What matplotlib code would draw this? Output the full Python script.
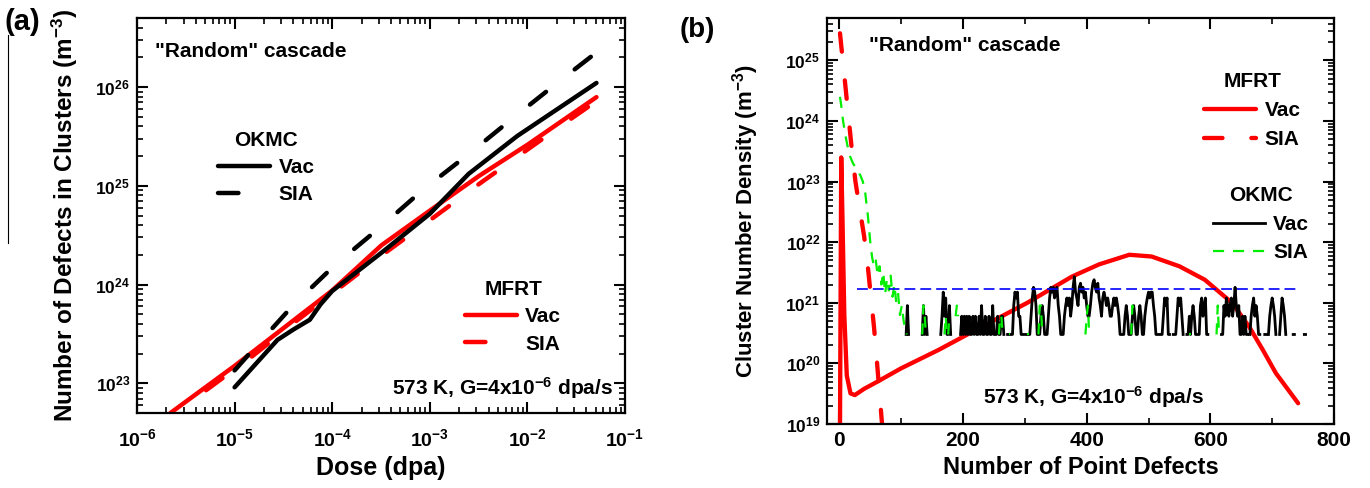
import numpy as np
import matplotlib
matplotlib.use('Agg')
import matplotlib.pyplot as plt
from matplotlib.ticker import LogLocator, FuncFormatter, MultipleLocator, NullFormatter
from matplotlib.lines import Line2D

plt.rcParams['font.family'] = ['Liberation Sans', 'DejaVu Sans']
plt.rcParams['font.weight'] = 'bold'
plt.rcParams['mathtext.fontset'] = 'custom'
plt.rcParams['mathtext.rm'] = 'Liberation Sans'
plt.rcParams['mathtext.bf'] = 'Liberation Sans:bold'
plt.rcParams['mathtext.default'] = 'bf'
plt.rcParams['axes.linewidth'] = 1.6

# ---- panel (a): defects in clusters vs dose ----
mfrt_vac_dose = [2.2e-6, 1e-5, 1e-4, 3.2e-4, 1e-3, 3.2e-3, 1e-2, 5.1e-2]
mfrt_vac_dens = [5.0e22, 1.5e23, 8.7e23, 2.5e24, 5.6e24, 1.26e25, 2.6e25, 7.9e25]
mfrt_sia_dose = [5.1e-6, 1.5e-5, 4.2e-5, 1.2e-4, 3.6e-4, 1.07e-3, 3.1e-3, 8.9e-3, 2.57e-2, 5.1e-2]
mfrt_sia_dens = [8.5e22, 1.86e23, 4.2e23, 9.3e23, 2.14e24, 4.7e24, 1.02e25, 2.14e25, 4.5e25, 7.2e25]
okmc_vac_dose = [1e-5, 2.75e-5, 4e-5, 5.9e-5, 7.6e-5, 1e-4, 3.2e-4, 1e-3, 2.5e-3, 7.9e-3, 5.1e-2]
okmc_vac_dens = [9.1e22, 2.75e23, 3.5e23, 4.4e23, 6.3e23, 8.6e23, 2.1e24, 5.2e24, 1.32e25, 3.2e25, 1.1e26]
okmc_sia_dose = [1e-5, 1.55e-5, 4e-5, 1.07e-4, 3.1e-4, 8.5e-4, 2.57e-3, 7.4e-3, 2.14e-2, 5.1e-2]
okmc_sia_dens = [1.35e23, 2.2e23, 6.2e23, 1.58e24, 3.8e24, 9.1e24, 2.14e25, 5.0e25, 1.15e26, 2.24e26]

# ---- panel (b): cluster size distribution ----
mfrt_vac_n = [1, 3, 5, 8, 12, 18, 25, 40, 60, 100, 160, 230, 304, 376, 420, 469, 505, 550, 591, 635, 663, 685, 706, 742]
mfrt_vac_cnd = [7.9e18, 2.5e23, 2.5e22, 6.3e20, 6.3e19, 3.2e19, 3.0e19, 3.8e19, 4.9e19, 8.3e19, 1.66e20, 4.0e20,
                1.0e21, 2.7e21, 4.3e21, 6.2e21, 5.8e21, 4.0e21, 2.4e21, 1.0e21, 4.0e20, 1.66e20, 6.9e19, 2.2e19]
mfrt_sia_n = [1, 5, 9, 14, 20, 26, 33, 40, 46, 51, 56, 61, 65, 69]
mfrt_sia_cnd = [2.8e25, 1.12e25, 4.5e24, 1.4e24, 3.5e23, 1.0e23, 3.5e22, 1.26e22, 4.0e21, 1.26e21, 4.0e20, 1.0e20,
                3.2e19, 1.0e19]
okmc_sia_n = [1, 3, 6, 10, 16, 22, 28, 34, 38, 42, 46, 50, 53, 56, 59, 62, 65, 68, 71, 74, 77, 80, 83, 86, 89, 92,
              95, 98, 101, 104, 107, 109]
okmc_sia_cnd = [2.5e24, 1.8e24, 1.0e24, 5.6e23, 2.8e23, 2.0e23, 1.6e23, 1.26e23, 1.0e23, 6.3e22, 2.8e22, 1.0e22,
                5.6e21, 4.0e21, 5.0e21, 2.8e21, 4.0e21, 2.0e21, 3.2e21, 1.4e21, 2.5e21, 1.6e21, 2.8e21, 1.26e21,
                2.0e21, 1.0e21, 1.4e21, 6.3e20, 9.0e20, 5.0e20, 3.5e20, 3.0e20]
# OKMC tail: number of clusters in the cell for n = 100, 102, ... (0 = none)
one_cluster = 3.0e20
okmc_vac_start = 100
okmc_vac_counts = ("0000131000" "0000000131" "2100000000" "0012524113" "1000000012"
                   "1212121121" "2112131121" "1211311121" "1221001111" "1354522111"
                   "1111124653" "1112321112" "4656456321" "1123434236" "9543675645"
                   "3223578657" "4324543432" "2343432111" "1232111232" "1123211234"
                   "5455321111" "1124341100" "1112434210" "0112123211" "1134234110"
                   "0000000001" "1324323423" "6323112121" "1012342321" "1010110123"
                   "4321001243" "2100000110" "0000001100")
okmc_sia_tail = [(134, [1, 3, 2, 1]), (170, [1, 2, 1]), (176, [1, 2]), (188, [2, 3, 2]), (258, [1, 2, 2, 1]),
                 (274, [1, 1]), (304, [1, 1]), (322, [1, 3, 3, 1]), (398, [1, 2, 3, 1]), (472, [1, 3, 2]),
                 (566, [1, 1]), (610, [1, 3, 1])]
ref_level_n = [29, 745]
ref_level = 1.7e21

W, H = 1370, 488
fig = plt.figure(figsize=(W / 100, H / 100), dpi=100)


def box(l, t, r, b):
    return [l / W, 1 - b / H, (r - l) / W, (b - t) / H]


def pow_fmt(v, pos):
    return r'$10^{%d}$' % int(round(np.log10(v)))


def style_axes(ax):
    ax.tick_params(which='both', direction='in', top=True, right=True)
    ax.tick_params(which='major', length=8, width=1.5)
    ax.tick_params(which='minor', length=4, width=1.2)


leg_kw = dict(frameon=False, fontsize=15, handlelength=2.5, handletextpad=0.4,
              borderpad=0, borderaxespad=0, title_fontproperties={'weight': 'bold', 'size': 15})

ax1 = fig.add_axes(box(137, 18, 625, 413))
dash_a = (4.6, 8.2)
ax1.plot(mfrt_vac_dose, mfrt_vac_dens, color='red', lw=3.2, solid_capstyle='round', label='Vac')
ax1.plot(mfrt_sia_dose, mfrt_sia_dens, color='red', lw=3.2, dashes=dash_a, dash_capstyle='round', label='SIA')
ax1.plot(okmc_vac_dose, okmc_vac_dens, color='black', lw=3.2, solid_capstyle='round', label='Vac')
ax1.plot(okmc_sia_dose, okmc_sia_dens, color='black', lw=3.2, dashes=dash_a, dash_capstyle='round', label='SIA')
ax1.set_xscale('log')
ax1.set_yscale('log')
ax1.set_xlim(1e-6, 1e-1)
ax1.set_ylim(5e22, 5e26)
ax1.xaxis.set_major_locator(LogLocator(base=10, numticks=20))
ax1.xaxis.set_minor_locator(LogLocator(base=10, subs=np.arange(2, 10), numticks=20))
ax1.yaxis.set_minor_locator(LogLocator(base=10, subs=np.arange(2, 10), numticks=20))
ax1.xaxis.set_major_formatter(FuncFormatter(pow_fmt))
ax1.yaxis.set_major_formatter(FuncFormatter(pow_fmt))
ax1.xaxis.set_minor_formatter(NullFormatter())
ax1.yaxis.set_minor_formatter(NullFormatter())
style_axes(ax1)
ax1.tick_params(axis='x', which='major', labelsize=14, pad=11)
ax1.tick_params(axis='y', which='major', labelsize=12.5, pad=5)
ax1.set_xlabel('Dose (dpa)', fontsize=18, fontweight='bold')
ax1.set_ylabel(r'Number of Defects in Clusters $\mathrm{(m^{-3})}$', fontsize=17.5, fontweight='bold')
ax1.xaxis.set_label_coords(0.5, -0.108)
ax1.yaxis.set_label_coords(-0.116, 0.5)
ax1.text(0.037, 0.914, '"Random" cascade', transform=ax1.transAxes, fontsize=15, va='center')
ax1.text(0.522, 0.063, r'573 K, G=4x10$^{-6}$ dpa/s', transform=ax1.transAxes, fontsize=15, va='center')

h = ax1.get_lines()
leg1 = ax1.legend(h[2:], ['Vac', 'SIA'], title='OKMC', loc='upper left', bbox_to_anchor=(0.166, 0.715),
                  labelspacing=0.4, **leg_kw)
ax1.add_artist(leg1)
ax1.legend(h[:2], ['Vac', 'SIA'], title='MFRT', loc='upper left', bbox_to_anchor=(0.672, 0.337),
           labelspacing=0.4, **leg_kw)

ax2 = fig.add_axes(box(827, 18, 1334, 424))
okmc_vac_n = okmc_vac_start + 2 * np.arange(len(okmc_vac_counts))
okmc_vac_cnd = np.array([int(c) for c in okmc_vac_counts]) * one_cluster
okmc_vac_cnd[okmc_vac_cnd == 0] = np.nan
l_mv, = ax2.plot(mfrt_vac_n, mfrt_vac_cnd, color='red', lw=3.1, solid_capstyle='round')
l_ms, = ax2.plot(mfrt_sia_n, mfrt_sia_cnd, color='red', lw=3.1, dashes=(4.3, 6.7), dash_capstyle='round')
l_ov, = ax2.plot(okmc_vac_n, okmc_vac_cnd, color='black', lw=2.0)
l_os, = ax2.plot(okmc_sia_n, okmc_sia_cnd, color='#00ee00', lw=1.6, dashes=(5, 4))
for n0, cnt in okmc_sia_tail:
    ax2.plot(n0 + 2 * np.arange(len(cnt)), np.array(cnt) * one_cluster, color='#00ee00', lw=1.6, dashes=(5, 4))
ax2.plot(ref_level_n, [ref_level, ref_level], color='blue', lw=1.2, dashes=(6.5, 3))
ax2.set_yscale('log')
ax2.set_xlim(-20, 800)
ax2.set_ylim(1e19, 5e25)
ax2.xaxis.set_major_locator(MultipleLocator(200))
ax2.xaxis.set_minor_locator(MultipleLocator(100))
ax2.yaxis.set_major_locator(LogLocator(base=10, numticks=20))
ax2.yaxis.set_minor_locator(LogLocator(base=10, subs=np.arange(2, 10), numticks=20))
ax2.yaxis.set_major_formatter(FuncFormatter(pow_fmt))
ax2.yaxis.set_minor_formatter(NullFormatter())
style_axes(ax2)
ax2.tick_params(axis='x', which='major', labelsize=15, pad=5)
ax2.tick_params(axis='y', which='major', labelsize=12.5, pad=5)
ax2.set_xlabel('Number of Point Defects', fontsize=17, fontweight='bold')
ax2.set_ylabel(r'Cluster Number Density $\mathrm{(m^{-3})}$', fontsize=16, fontweight='bold')
ax2.xaxis.set_label_coords(0.5, -0.078)
ax2.yaxis.set_label_coords(-0.13, 0.5)
ax2.text(0.083, 0.933, '"Random" cascade', transform=ax2.transAxes, fontsize=15, va='center')
ax2.text(0.308, 0.067, r'573 K, G=4x10$^{-6}$ dpa/s', transform=ax2.transAxes, fontsize=15, va='center')
leg2 = ax2.legend([l_mv, l_ms], ['Vac', 'SIA'], title='MFRT', loc='upper left', bbox_to_anchor=(0.744, 0.868),
                  labelspacing=0.5, **leg_kw)
ax2.add_artist(leg2)
ax2.legend([l_ov, l_os], ['Vac', 'SIA'], title='OKMC', loc='upper left', bbox_to_anchor=(0.761, 0.585),
           labelspacing=0.45, **leg_kw)

fig.text(5 / W, 1 - 22 / H, '(a)', fontsize=21, va='center', ha='left')
fig.text(680 / W, 1 - 30 / H, '(b)', fontsize=20, va='center', ha='left')
fig.add_artist(Line2D([8 / W, 8 / W], [1 - 35 / H, 1 - 243 / H], color='black', lw=0.8))

fig.savefig('out.png', dpi=100)
